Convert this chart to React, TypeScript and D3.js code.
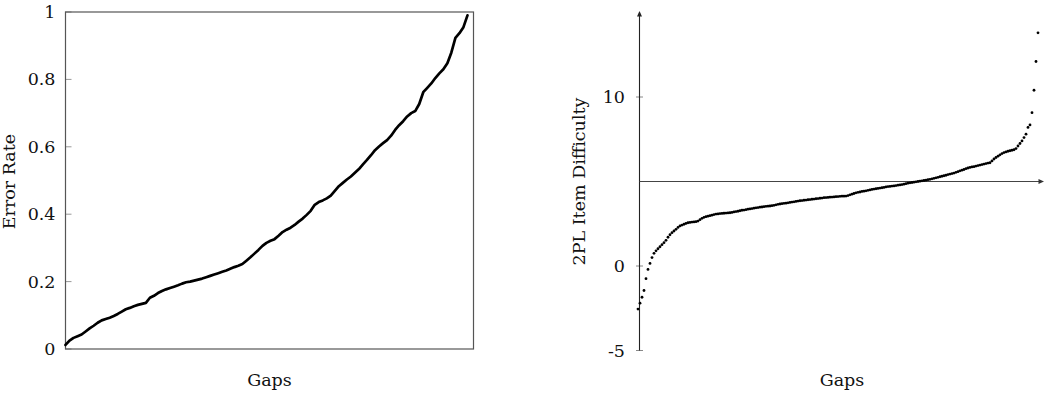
import React from "react";
import * as d3 from "d3";

// Left panel: error rate per gap (sorted)
const errorRates: number[] = [
  0.012, 0.025, 0.033, 0.038, 0.043, 0.052, 0.061, 0.069, 0.078, 0.085,
  0.089, 0.093, 0.098, 0.104, 0.111, 0.118, 0.122, 0.127, 0.131, 0.134,
  0.137, 0.152, 0.158, 0.166, 0.172, 0.177, 0.181, 0.185, 0.189, 0.194,
  0.198, 0.2, 0.203, 0.206, 0.209, 0.213, 0.217, 0.221, 0.225, 0.229,
  0.233, 0.238, 0.243, 0.247, 0.252, 0.262, 0.272, 0.283, 0.294, 0.306,
  0.315, 0.321, 0.326, 0.336, 0.347, 0.354, 0.36, 0.368, 0.378, 0.387,
  0.398, 0.41, 0.428, 0.436, 0.441, 0.447, 0.455, 0.469, 0.483, 0.493,
  0.503, 0.512, 0.523, 0.534, 0.548, 0.561, 0.575, 0.59, 0.601, 0.611,
  0.62, 0.633, 0.65, 0.664, 0.676, 0.69, 0.7, 0.706, 0.727, 0.762,
  0.775, 0.788, 0.804, 0.818, 0.83, 0.848, 0.88, 0.923, 0.937, 0.955,
  0.99,
];
const leftTicks: number[] = [0, 0.2, 0.4, 0.6, 0.8, 1];

// Right panel: 2PL item difficulty per gap (sorted)
const difficulties: number[] = [
  -2.55, -2.2, -1.85, -1.45, -0.75, -0.2, 0.15, 0.5, 0.75, 0.9,
  1.02, 1.14, 1.26, 1.38, 1.52, 1.7, 1.85, 1.97, 2.07, 2.17,
  2.28, 2.37, 2.42, 2.47, 2.52, 2.56, 2.58, 2.6, 2.61, 2.62,
  2.66, 2.74, 2.82, 2.88, 2.92, 2.95, 2.98, 3.01, 3.04, 3.07,
  3.08, 3.1, 3.11, 3.12, 3.13, 3.14, 3.15, 3.17, 3.2, 3.22,
  3.24, 3.27, 3.3, 3.31, 3.33, 3.36, 3.38, 3.4, 3.42, 3.44,
  3.46, 3.48, 3.49, 3.51, 3.53, 3.54, 3.55, 3.57, 3.59, 3.62,
  3.65, 3.67, 3.69, 3.71, 3.72, 3.74, 3.76, 3.78, 3.8, 3.82,
  3.84, 3.86, 3.87, 3.89, 3.9, 3.92, 3.93, 3.95, 3.96, 3.98,
  3.99, 4.01, 4.02, 4.04, 4.05, 4.06, 4.07, 4.08, 4.09, 4.1,
  4.11, 4.12, 4.13, 4.13, 4.14, 4.17, 4.21, 4.25, 4.29, 4.33,
  4.36, 4.38, 4.41, 4.43, 4.45, 4.48, 4.5, 4.53, 4.55, 4.57,
  4.59, 4.61, 4.63, 4.65, 4.68, 4.7, 4.71, 4.73, 4.74, 4.76,
  4.78, 4.8, 4.82, 4.84, 4.87, 4.9, 4.92, 4.94, 4.96, 4.98,
  5.0, 5.02, 5.04, 5.06, 5.08, 5.11, 5.13, 5.16, 5.19, 5.22,
  5.25, 5.28, 5.31, 5.34, 5.37, 5.41, 5.44, 5.47, 5.5, 5.54,
  5.58, 5.63, 5.67, 5.71, 5.76, 5.8, 5.83, 5.86, 5.88, 5.91,
  5.94, 5.97, 6.0, 6.03, 6.06, 6.09, 6.11, 6.22, 6.33, 6.42,
  6.5, 6.58, 6.65, 6.71, 6.75, 6.79, 6.82, 6.85, 6.88, 6.95,
  7.1, 7.25, 7.4, 7.6, 7.8, 8.2, 8.35, 9.07, 10.4, 12.1,
  13.8,
];
const rightTicks: number[] = [-5, 0, 10];
const rightTickLabels: string[] = ["-5", "0", "10"];
const rightAxisCross = 5;

const FONT = "'DejaVu Serif', serif";
const FS = 17.5;

export default function App() {
  // Left panel scales
  const lx = d3.scaleLinear().domain([0, errorRates.length + 0.5]).range([65.5, 473.5]);
  const ly = d3.scaleLinear().domain([0, 1]).range([349, 12]);
  const line = d3
    .line<number>()
    .x((_, i) => lx(i))
    .y((d) => ly(d));

  // Right panel scales
  const rx = d3.scaleLinear().domain([0, difficulties.length - 1]).range([638, 1038]);
  const ry = d3.scaleLinear().domain([-5, 15]).range([350.5, 12.5]);
  const axisX = 639.5;
  const xAxisY = ry(rightAxisCross);

  return (
    <div style={{ position: "absolute", left: 0, top: 0 }}>
      <svg width={1051} height={400} style={{ display: "block", overflow: "hidden" }}>
        <rect x={0} y={0} width={1051} height={400} fill="#fff" />

        {/* ---------- Left panel ---------- */}
        {leftTicks.map((t) => (
          <g key={"lt" + t}>
            <line x1={lx(0) - 0.5} x2={lx(0) + 6} y1={ly(t)} y2={ly(t)} stroke="#999" strokeWidth={1} />
            <text
              x={55.5}
              y={ly(t)}
              textAnchor="end"
              dominantBaseline="central"
              fontFamily={FONT}
              fontSize={FS}
              fill="#111"
            >
              {String(t)}
            </text>
          </g>
        ))}
        <rect x={65.5} y={12} width={408} height={337} fill="none" stroke="#555" strokeWidth={1.2} />
        <path
          d={line(errorRates) || ""}
          fill="none"
          stroke="#000"
          strokeWidth={2.7}
          strokeLinejoin="round"
          strokeLinecap="round"
        />
        <text
          transform={`translate(15,181.5) rotate(-90)`}
          textAnchor="middle"
          fontFamily={FONT}
          fontSize={FS}
          fill="#111"
        >
          Error Rate
        </text>
        <text x={269.5} y={386} textAnchor="middle" fontFamily={FONT} fontSize={FS} fill="#111">
          Gaps
        </text>

        {/* ---------- Right panel ---------- */}
        {rightTicks.map((t, i) => (
          <g key={"rt" + t}>
            <line x1={axisX - 3.5} x2={axisX + 3.5} y1={ry(t)} y2={ry(t)} stroke="#888" strokeWidth={1} />
            <text
              x={625}
              y={ry(t)}
              textAnchor="end"
              dominantBaseline="central"
              fontFamily={FONT}
              fontSize={FS}
              fill="#111"
            >
              {rightTickLabels[i]}
            </text>
          </g>
        ))}
        {/* y axis with arrow */}
        <line x1={axisX} x2={axisX} y1={ry(-5)} y2={13} stroke="#222" strokeWidth={1.1} />
        <path d={`M${axisX - 2.5},${16.5} L${axisX},${11} L${axisX + 2.5},${16.5} Z`} fill="#222" />
        {/* x axis with arrow */}
        <line x1={axisX} x2={1042} y1={xAxisY} y2={xAxisY} stroke="#444" strokeWidth={1.1} />
        <path d={`M${1038.5},${xAxisY - 2.5} L${1044},${xAxisY} L${1038.5},${xAxisY + 2.5} Z`} fill="#333" />

        {difficulties.map((d, i) => (
          <circle key={"p" + i} cx={rx(i)} cy={ry(d)} r={1.4} fill="#000" />
        ))}

        <text
          transform={`translate(585,181.5) rotate(-90)`}
          textAnchor="middle"
          fontFamily={FONT}
          fontSize={FS}
          fill="#111"
        >
          2PL Item Difficulty
        </text>
        <text x={842} y={386} textAnchor="middle" fontFamily={FONT} fontSize={FS} fill="#111">
          Gaps
        </text>
      </svg>
    </div>
  );
}
